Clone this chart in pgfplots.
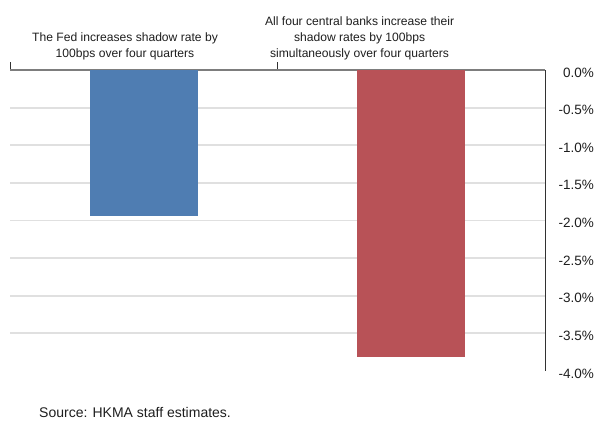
\documentclass[border=0pt]{standalone}
\usepackage{fontspec}
\setmainfont{Liberation Sans}
\usepackage{pgfplots}
\pgfplotsset{compat=1.18}
\definecolor{fedblue}{RGB}{79,125,178}
\definecolor{allred}{RGB}{184,82,87}
\definecolor{gridgray}{RGB}{224,224,224}
\definecolor{axisgray}{RGB}{50,50,50}
\definecolor{topgray}{RGB}{125,125,125}
\definecolor{txt}{RGB}{30,30,30}
\begin{document}
\begin{tikzpicture}[font=\fontsize{12.1bp}{15.8bp}\selectfont, text=txt]
\useasboundingbox (-10bp,-50bp) rectangle (588bp,371bp);
\begin{axis}[
 at={(0,0)}, anchor=south west,
 scale only axis, width=535bp, height=301bp,
 xmin=-0.5, xmax=1.5, ymin=-4, ymax=0,
 axis x line*=top, axis y line*=right,
 x axis line style={topgray, line width=1.2bp},
 y axis line style={axisgray, line width=0.9bp},
 xtick={-0.5,0.5}, xticklabels={},
 x tick style={axisgray, line width=0.9bp},
 tick align=inside, major tick length=8bp,
 ytick={-3.5,-3,-2.5,-2,-1.5,-1,-0.5,0},
 extra y ticks={-4}, extra y tick style={grid=none},
 y tick style={draw=none},
 ymajorgrids, grid style={gridgray, line width=1.8bp},
 yticklabel={\pgfmathprintnumber[fixed,fixed zerofill,precision=1]{\tick}\%},
 /pgf/number format/assume math mode=true,
 yticklabel style={anchor=east, inner sep=0pt, xshift=49bp, yshift=-2.5bp,
   font=\fontsize{13.5bp}{16bp}\selectfont},
 ybar, bar width=0.404,
 clip=false,
]
\addplot[fill=fedblue, draw=none, bar shift=0] coordinates {(0,-1.94)};
\addplot[fill=allred, draw=none, bar shift=0] coordinates {(1,-3.81)};
\node[anchor=south, align=center, inner sep=0pt, yshift=10bp] at (axis cs:-0.07,0)
  {The Fed increases shadow rate by\\100bps over four quarters};
\node[anchor=south, align=center, inner sep=0pt, yshift=10bp] at (axis cs:0.807,0)
  {All four central banks increase their\\shadow rates by 100bps\\simultaneously over four quarters};
\end{axis}
\node[anchor=base west, inner sep=0pt, font=\fontsize{14bp}{16bp}\selectfont] at (29bp,-46bp) {Source: HKMA staff estimates.};
\end{tikzpicture}
\end{document}
